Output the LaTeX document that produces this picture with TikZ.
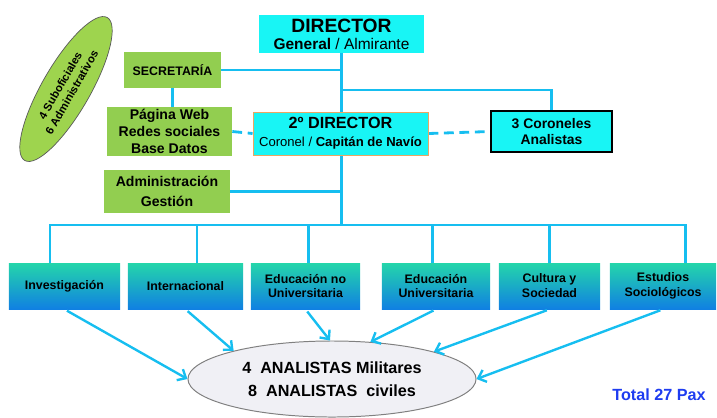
\documentclass[tikz,border=0pt]{standalone}
\usepackage{fontspec}
\setmainfont{Liberation Sans}
\usetikzlibrary{shapes.geometric,arrows.meta,calc,backgrounds}
\definecolor{linkblue}{RGB}{22,190,240}
\definecolor{boxcyan}{RGB}{24,245,245}
\definecolor{boxgreen}{RGB}{146,206,80}
\definecolor{ovalgreen}{RGB}{158,212,78}
\definecolor{areatop}{RGB}{36,214,170}
\definecolor{areabot}{RGB}{16,128,226}
\definecolor{ovalgrey}{RGB}{240,240,245}
\definecolor{totalblue}{RGB}{30,60,240}
\tikzset{
link/.style={draw=linkblue, line width=2pt}, % plain connector
arrow/.style={link, line width=1.7pt, -{Straight Barb[length=5pt,width=9pt]}, shorten <=2pt},
head/.style={fill=boxcyan, inner sep=0pt, align=center}, % director boxes
unit/.style={fill=boxgreen, inner sep=0pt, align=center, font=\fontsize{10}{12}\selectfont\bfseries},
area/.style={top color=areatop, bottom color=areabot, inner sep=0pt, align=center,
  minimum height=1.15cm, font=\fontsize{8.8}{10.6}\selectfont\bfseries},
}

\begin{document}
\begin{tikzpicture}[x=0.025cm, y=-0.025cm]
   \useasboundingbox (0,0) rectangle (717,417);
   % top of the chart
   \node[head, minimum width=4.125cm, minimum height=0.95cm] (dir) at (341.5,34)
     {{\fontsize{13.7}{13}\selectfont\bfseries DIRECTOR}\\[0pt]
      \fontsize{11}{12}\selectfont\textbf{General} / Almirante};
   \node[head, draw=orange!55!brown!70, line width=0.6pt, minimum width=4.375cm, minimum height=1.075cm] (sub) at (340.5,133.5)
     {{\fontsize{11.5}{12}\selectfont\bfseries 2º DIRECTOR}\\[1pt]
      \fontsize{9.3}{10}\selectfont Coronel / \textbf{Capitán de Navío}};
   \node[head, draw=black, line width=1pt, minimum width=3.025cm, minimum height=1.025cm,
     font=\fontsize{9.9}{12}\selectfont\bfseries] (cor) at (551.5,131.5) {3 Coroneles\\Analistas};
   % staff units
   \node[unit, minimum width=2.425cm, minimum height=0.9cm, font=\fontsize{8.8}{10}\selectfont\bfseries] (sec) at (172.5,70) {SECRETARÍA};
   \node[unit, minimum width=3.125cm, minimum height=1.225cm] (web) at (169.5,131.5) {Página Web\\Redes sociales\\Base Datos};
   \node[unit, minimum width=3.15cm, minimum height=1.075cm, font=\fontsize{10}{14}\selectfont\bfseries] (adm) at (167,191.5) {Administración\\Gestión};
   \node[ellipse, fill=ovalgreen, draw=gray!70!black, line width=0.5pt, inner sep=0pt, rotate=60,
     minimum width=4.125cm, minimum height=1.2cm, align=center,
     font=\fontsize{8}{9.5}\selectfont\bfseries] (staff) at (66,89) {4 Suboficiales\\6 Administrativos};
   % research areas
   \node[area, minimum width=2.775cm] (inv) at (64.5,286) {Investigación};
   \node[area, minimum width=2.875cm] (int) at (185.5,286) {Internacional};
   \node[area, minimum width=2.725cm] (edno) at (305.5,286) {Educación no\\Universitaria};
   \node[area, minimum width=2.7cm] (eduni) at (436,286) {Educación\\Universitaria};
   \node[area, minimum width=2.525cm] (cult) at (549.5,286) {Cultura y\\Sociedad};
   \node[area, minimum width=2.65cm] (est) at (663,286) {Estudios\\Sociológicos};
   \node[ellipse, fill=ovalgrey, draw=gray, line width=0.7pt, inner sep=0pt,
     minimum width=7.2cm, minimum height=1.9cm, align=center,
     font=\fontsize{11.5}{16}\selectfont\bfseries] (ell) at (332,379)
     {4\ \ ANALISTAS Militares\\8\ \ ANALISTAS\ \ civiles};
   \node[text=totalblue, font=\fontsize{11.5}{12}\selectfont\bfseries] (total) at (659,395) {Total 27 Pax};

   \coordinate (fork) at (341,90);
   \coordinate (bus) at (341,225);
   \begin{scope}[on background layer]
   \draw[link] (dir.south) -- (dir.south |- bus);
   \draw[link] (sec.east) -- (sec.east -| dir.south);
   \draw[link] (adm.east) -- (adm.east -| dir.south);
   \draw[link] (dir.south |- fork) -| (cor.north);
   \draw[link] (sec.south) -- (sec.south |- web.north);
   \draw[link, dash pattern=on 7pt off 4pt] (web.east) -- (sub.west);
   \draw[link, dash pattern=on 7pt off 4pt] (sub.east) -- (cor.west);
   \foreach \n/\f in {inv/0.37,int/0.6,edno/0.53,eduni/0.47,cult/0.5,est/0.71}{
     \coordinate (\n-top) at ($(\n.north west)!\f!(\n.north east)$);
     \draw[link] (\n-top) -- (\n-top |- bus);
   }
   \draw[link] (inv-top) |- (bus) -| (est-top);
   \end{scope}

   \draw[arrow] (inv.south) -- (ell.west);
   \draw[arrow] (int.south) -- (ell.164);
   \draw[arrow] (edno.south) -- (ell.93);
   \draw[arrow] (eduni.south) -- (ell.44);
   \draw[arrow] (cult.south) -- (ell.15);
   \draw[arrow] (est.south) -- (ell.east);
\end{tikzpicture}
\end{document}
